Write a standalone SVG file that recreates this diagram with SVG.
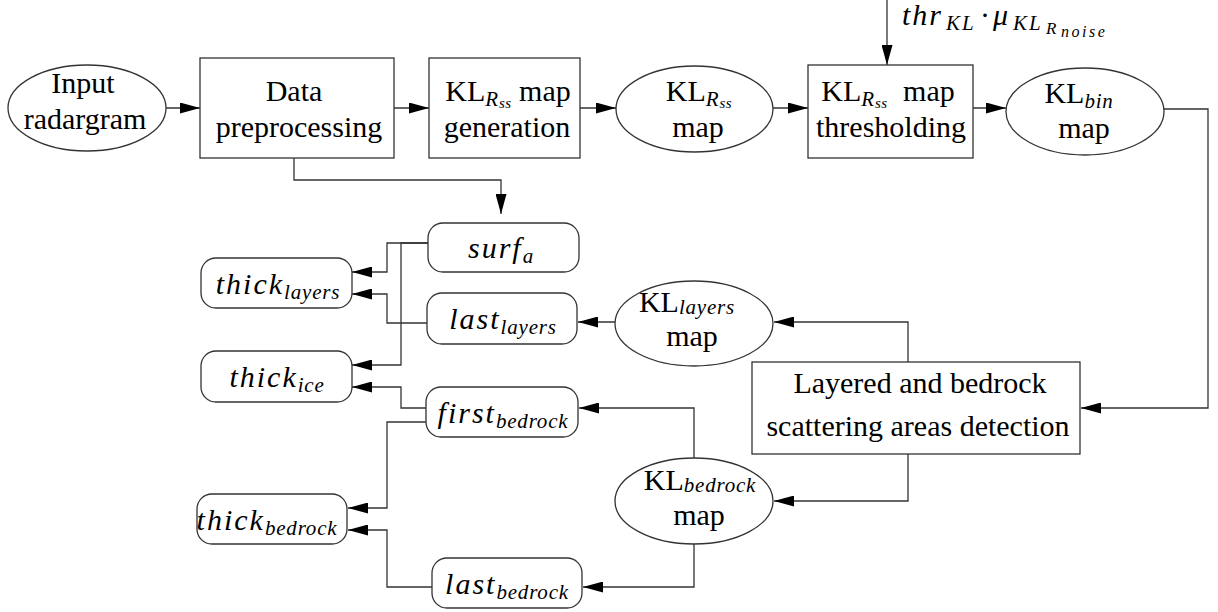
<svg xmlns="http://www.w3.org/2000/svg" width="1218" height="612" viewBox="0 0 1218 612">
<style>
  .shape { fill: #fff; stroke: #333; stroke-width: 1.3; }
  .conn { fill: none; stroke: #333; stroke-width: 1.3; marker-end: url(#ah); }
  .t { font-family: 'Liberation Serif', 'DejaVu Serif', serif; font-size: 30px; fill: #000; text-anchor: middle; }
  .mi { font-style: italic; letter-spacing: 2px; }
  .sub { font-style: italic; font-size: 21px; letter-spacing: 0.8px; }
  .ss { font-style: italic; font-size: 15px; letter-spacing: 0.5px; }
</style>
<defs>
  <marker id="ah" markerUnits="userSpaceOnUse" markerWidth="20" markerHeight="11" refX="20" refY="5.5" orient="auto" viewBox="0 0 20 11">
    <path d="M0,0 L20,5.5 L0,11 Z" fill="#000"/>
  </marker>
</defs>

<g id="connectors">
  <path class="conn" d="M166,108 H200"/>
  <path class="conn" d="M394,108 H429"/>
  <path class="conn" d="M580,108 H616"/>
  <path class="conn" d="M773,108 H808"/>
  <path class="conn" d="M973,108 H1006"/>
  <path class="conn" d="M887,0 V65"/>
  <path class="conn" d="M1164,109 H1208 V408 H1081"/>
  <path class="conn" d="M294,158 V180 H501 V214"/>
  <path class="conn" d="M908,362 V322 H774"/>
  <path class="conn" d="M908,454 V501 H774"/>
  <path class="conn" d="M615,322 H578"/>
  <path class="conn" d="M694,458 V408 H579"/>
  <path class="conn" d="M694,544 V587 H583"/>
  <path class="conn" d="M428,243 H387 V272 H352"/>
  <path class="conn" d="M428,243 H401 V365 H352"/>
  <path class="conn" d="M427,323 H387 V294 H352"/>
  <path class="conn" d="M426,408 H401 V387 H352"/>
  <path class="conn" d="M426,422 H387 V508 H348"/>
  <path class="conn" d="M432,587 H387 V530 H348"/>
</g>

<g id="threshold-label">
  <text class="t" x="902" y="25" style="text-anchor:start"><tspan class="mi">thr</tspan><tspan class="sub" x="946" dy="5" style="letter-spacing:2px">KL</tspan><tspan x="980" dy="-5">·</tspan><tspan class="mi" x="993">μ</tspan><tspan class="sub" x="1013" dy="5" style="letter-spacing:2px">KL</tspan><tspan class="ss" x="1046" dy="4" style="font-size:17px">R</tspan><tspan class="ss" x="1061" dy="3" style="font-size:16px;letter-spacing:2.5px">noise</tspan></text>
</g>

<g id="input-radargram">
  <ellipse class="shape" cx="87" cy="108" rx="79" ry="43"/>
  <text class="t" x="83" y="93">Input</text>
  <text class="t" x="85" y="129">radargram</text>
</g>

<g id="data-preprocessing">
  <rect class="shape" x="200" y="58" width="194" height="100"/>
  <text class="t" x="294" y="101">Data</text>
  <text class="t" x="299" y="137">preprocessing</text>
</g>

<g id="klrss-map-generation">
  <rect class="shape" x="429" y="58" width="151" height="100"/>
  <text class="t" x="508" y="101">KL<tspan class="sub" dy="5">R</tspan><tspan class="ss" dy="2">ss</tspan><tspan dy="-7"> map</tspan></text>
  <text class="t" x="507" y="137">generation</text>
</g>

<g id="klrss-map">
  <ellipse class="shape" cx="694.5" cy="109" rx="78.5" ry="43"/>
  <text class="t" x="699" y="101">KL<tspan class="sub" dy="5">R</tspan><tspan class="ss" dy="2">ss</tspan></text>
  <text class="t" x="698" y="137">map</text>
</g>

<g id="klrss-map-thresholding">
  <rect class="shape" x="808" y="65" width="165" height="93"/>
  <text class="t" x="888" y="101">KL<tspan class="sub" dy="5">R</tspan><tspan class="ss" dy="2">ss</tspan><tspan dy="-7" dx="8"> map</tspan></text>
  <text class="t" x="891" y="137">thresholding</text>
</g>

<g id="klbin-map">
  <ellipse class="shape" cx="1085" cy="111.5" rx="79" ry="43.5"/>
  <text class="t" x="1079" y="103">KL<tspan class="sub" dy="5">bin</tspan></text>
  <text class="t" x="1084" y="138">map</text>
</g>

<g id="surf-a">
  <rect class="shape" x="428" y="223" width="151" height="49" rx="15" ry="15"/>
  <text class="t" x="501" y="258"><tspan class="mi">surf</tspan><tspan class="sub" dy="5">a</tspan></text>
</g>

<g id="last-layers">
  <rect class="shape" x="427" y="293" width="150" height="51" rx="15" ry="15"/>
  <text class="t" x="503" y="329"><tspan class="mi">last</tspan><tspan class="sub" dy="5">layers</tspan></text>
</g>

<g id="thick-layers">
  <rect class="shape" x="201" y="258" width="151" height="50" rx="15" ry="15"/>
  <text class="t" x="278" y="294"><tspan class="mi">thick</tspan><tspan class="sub" dy="5">layers</tspan></text>
</g>

<g id="thick-ice">
  <rect class="shape" x="201" y="351" width="151" height="51" rx="15" ry="15"/>
  <text class="t" x="277" y="387"><tspan class="mi">thick</tspan><tspan class="sub" dy="5">ice</tspan></text>
</g>

<g id="first-bedrock">
  <rect class="shape" x="426" y="387" width="152" height="50" rx="15" ry="15"/>
  <text class="t" x="503" y="423"><tspan class="mi">first</tspan><tspan class="sub" dy="5">bedrock</tspan></text>
</g>

<g id="thick-bedrock">
  <rect class="shape" x="197" y="494" width="150" height="50" rx="15" ry="15"/>
  <text class="t" x="267" y="530"><tspan class="mi">thick</tspan><tspan class="sub" dy="5">bedrock</tspan></text>
</g>

<g id="last-bedrock">
  <rect class="shape" x="432" y="558" width="150" height="50" rx="15" ry="15"/>
  <text class="t" x="507" y="594"><tspan class="mi">last</tspan><tspan class="sub" dy="5">bedrock</tspan></text>
</g>

<g id="kllayers-map">
  <ellipse class="shape" cx="694" cy="323.5" rx="79" ry="42.5"/>
  <text class="t" x="687" y="312">KL<tspan class="sub" dy="2">layers</tspan></text>
  <text class="t" x="692" y="346">map</text>
</g>

<g id="layered-bedrock-detection">
  <rect class="shape" x="752" y="362" width="328" height="92"/>
  <text class="t" x="920" y="393">Layered and bedrock</text>
  <text class="t" x="918" y="436">scattering areas detection</text>
</g>

<g id="klbedrock-map">
  <ellipse class="shape" cx="694" cy="501" rx="79" ry="43"/>
  <text class="t" x="700" y="490">KL<tspan class="sub" dy="2">bedrock</tspan></text>
  <text class="t" x="699" y="525">map</text>
</g>
</svg>
